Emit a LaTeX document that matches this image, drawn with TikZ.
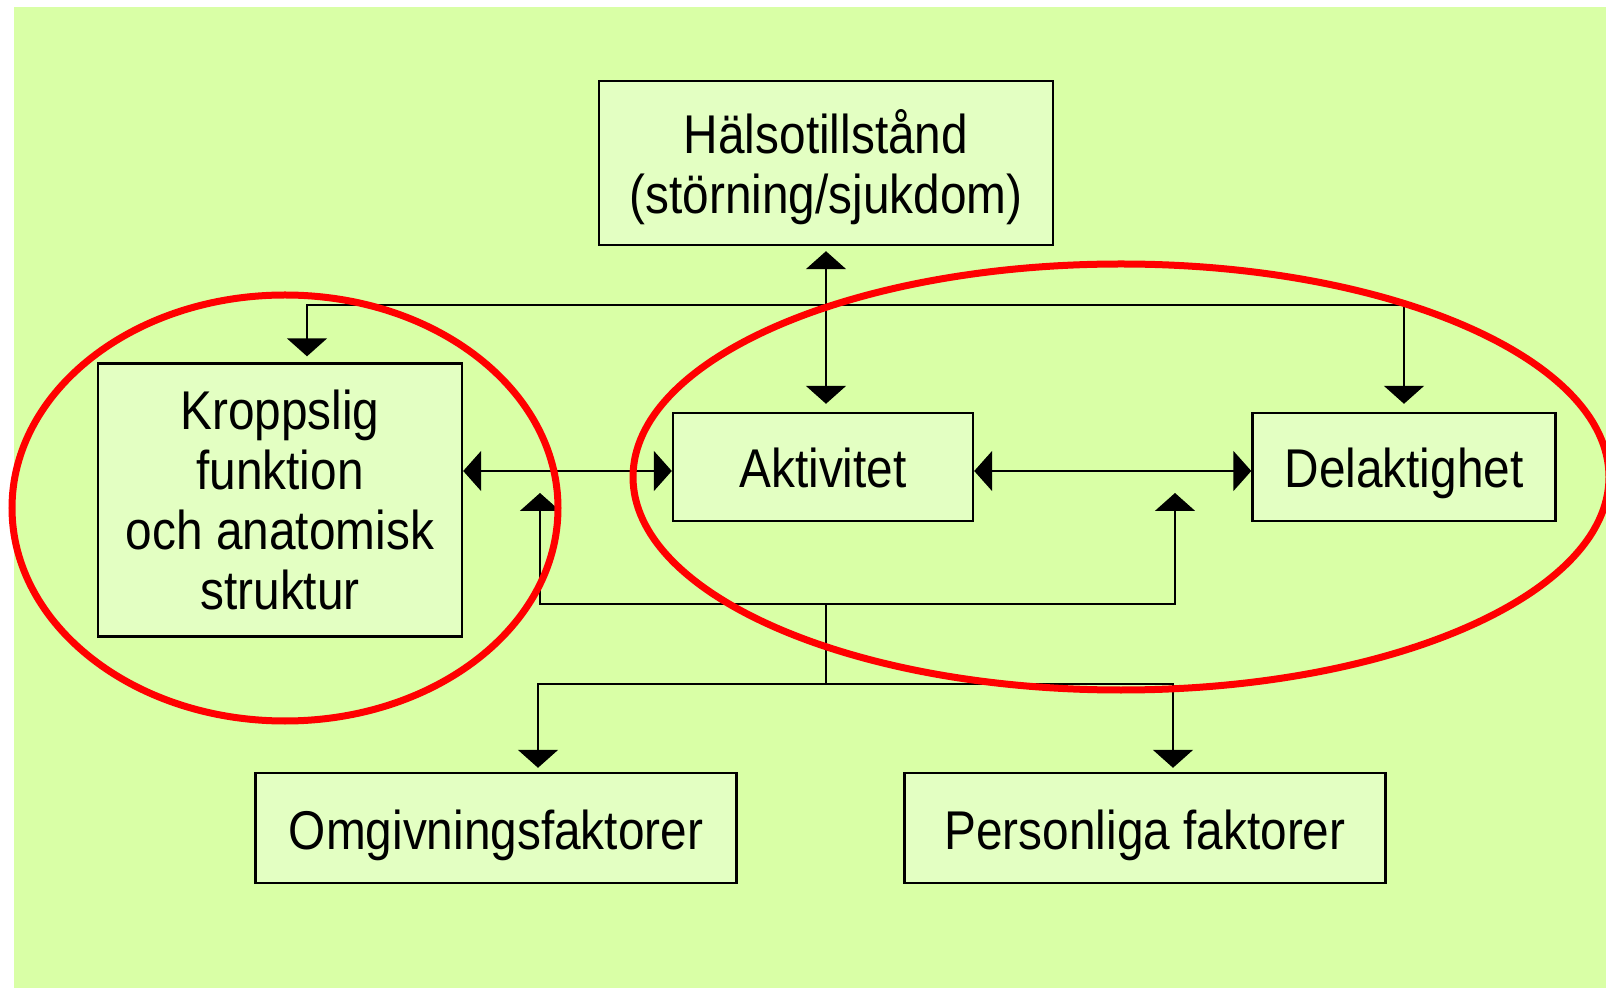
\documentclass[tikz,border=0pt]{standalone}
\usepackage{fontspec}
\setmainfont{Liberation Sans}[FakeStretch=0.875]
\usetikzlibrary{arrows.meta}
\definecolor{bggreen}{RGB}{217,255,166}
\definecolor{boxgreen}{RGB}{227,255,194}

\begin{document}
\begin{tikzpicture}[
	x=0.5pt, y=-0.5pt,
	box/.style={ draw, line width=1.2pt, fill=boxgreen, inner sep=0pt, align=center, font=\fontsize{27.3}{30}\selectfont },
	single/.style={ box, text height=21pt, text depth=0pt },
	link/.style={ line width=1pt, -{Triangle[width=20pt,length=9pt]} },
	links/.style={ line width=1pt, {Triangle[width=20pt,length=9pt]}-{Triangle[width=20pt,length=9pt]} },
	ring/.style={ red, line width=3.5pt }
]

\useasboundingbox (0,0) rectangle (1606,988);
\clip (0,0) rectangle (1606,988);
\fill[bggreen] (14,7) rectangle (1606,988);

\node at (826,163) (hals) [box, text depth=1.5pt, minimum width=227pt, minimum height=82pt] {Hälsotillstånd\\(störning/sjukdom)};
\node at (280,500) (kropp) [box, text depth=0pt, minimum width=182pt, minimum height=136.5pt] {Kroppslig\\funktion\\och anatomisk\\struktur};
\node at (823,467) (akt) [single, minimum width=150pt, minimum height=54pt] {Aktivitet};
\node at (1404,467) (del) [single, minimum width=151.5pt, minimum height=54pt] {Delaktighet};
\node at (496,828) (omg) [single, minimum width=240.5pt, minimum height=55pt] {Omgivningsfaktorer};
\node at (1145,828) (pers) [single, minimum width=240.5pt, minimum height=55pt] {Personliga faktorer};

\coordinate (topL) at (307,305);
\coordinate (topR) at (1404,305);
\coordinate (mid) at (0,471);
\coordinate (upL) at (540,493);
\coordinate (upR) at (1175,493);
\coordinate (lowL) at (540,604);
\coordinate (lowR) at (1175,604);
\coordinate (lowC) at (826,604);
\coordinate (botC) at (826,684);
\coordinate (botL) at (538,684);
\coordinate (botR) at (1173,684);

\draw[links, shorten <=2.5pt, shorten >=4pt] (hals.south) -- (hals.south |- akt.north);
\draw[link, shorten >=3pt] (topR) -- (topL) -- (topL |- kropp.north);
\draw[link, shorten >=4pt] (topL) -- (topR) -- (topR |- del.north);
\draw[links] (kropp.east |- mid) -- (akt.west |- mid);
\draw[links] (akt.east |- mid) -- (del.west |- mid);
\draw[links] (upL) -- (lowL) -- (lowR) -- (upR);
\draw[line width=1pt] (lowC) -- (botC);
\draw[links, shorten <=2pt, shorten >=2pt] (botL |- omg.north) -- (botL) -- (botR) -- (botR |- pers.north);

\draw[ring] (285,508) ellipse [x radius=136.5pt, y radius=106.5pt];
\draw[ring] (1121,477) ellipse [x radius=244pt, y radius=106.5pt];

\end{tikzpicture}
\end{document}
